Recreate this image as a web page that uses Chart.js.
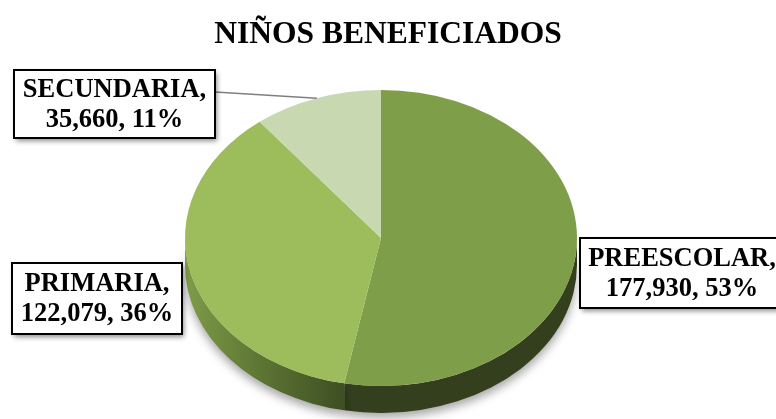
<!DOCTYPE html>
<html>
<head>
<meta charset="utf-8">
<script src="https://cdn.jsdelivr.net/npm/chart.js@4"></script>
<style>
    html, body { margin: 0; padding: 0; background: #fff; }
    canvas { display: block; }
</style>
</head>
<body>
<canvas id="pie" width="776" height="419"></canvas>
<script>
// Data
const categories = ["PREESCOLAR", "PRIMARIA", "SECUNDARIA"];
const values = [177930, 122079, 35660];
const topColors = ["#7f9e49", "#9dbd5c", "#c8d8b0"];
const sideColors = ["#333f1d", "#5f7a34", "#8aa05e"];

// Ellipse used for the 3D look (layout only)
const ell = { cx: 381, cy: 238, rx: 196, ry: 148, depth: 27 };

// Label boxes (layout only)
const labelBoxes = [
    { x: 580, y: 238, w: 204, h: 70 },
    { x: 12, y: 263, w: 170, h: 71 },
    { x: 14, y: 70, w: 201, h: 68, leader: true }
];

const total = values.reduce((a, b) => a + b, 0);

// Draw the pie as a tilted disc
const pie3d = {
    id: "pie3d",
    beforeDatasetsDraw(chart) {
        let ctx = chart.ctx;
        let arcs = chart.getDatasetMeta(0).data;
        let R = arcs[0].outerRadius;
        let x = arcs[0].x, y = arcs[0].y;

        // Side walls, only the front half can be seen
        ctx.save();
        ctx.shadowColor = "rgba(0,0,0,0.35)";
        ctx.shadowBlur = 10;
        ctx.shadowOffsetY = 5;
        arcs.forEach((arc, i) => {
            let t0 = Math.max(arc.startAngle, 0);
            let t1 = Math.min(arc.endAngle, Math.PI);
            if (t1 <= t0) return;
            ctx.beginPath();
            ctx.ellipse(ell.cx, ell.cy, ell.rx, ell.ry, 0, t0, t1);
            ctx.ellipse(ell.cx, ell.cy + ell.depth, ell.rx, ell.ry, 0, t1, t0, true);
            ctx.closePath();
            if (i === 1) {
                let g = ctx.createLinearGradient(ell.cx - ell.rx, 0, ell.cx - 40, 0);
                g.addColorStop(0, "#7d9c48");
                g.addColorStop(0.5, "#5c7433");
                g.addColorStop(1, "#3f5023");
                ctx.fillStyle = g;
            } else {
                ctx.fillStyle = sideColors[i];
            }
            ctx.fill();
        });
        ctx.restore();

        // Squash the library's circle into the ellipse
        ctx.save();
        ctx.translate(ell.cx, ell.cy);
        ctx.scale(ell.rx / R, ell.ry / R);
        ctx.translate(-x, -y);
    },
    afterDatasetsDraw(chart) {
        chart.ctx.restore();
    },
    afterDraw(chart) {
        let ctx = chart.ctx;
        let arcs = chart.getDatasetMeta(0).data;
        labelBoxes.forEach((b, i) => {
            // Leader line to the slice edge
            if (b.leader) {
                let mid = (arcs[i].startAngle + arcs[i].endAngle) / 2;
                ctx.save();
                ctx.strokeStyle = "#7f7f7f";
                ctx.lineWidth = 1.5;
                ctx.beginPath();
                ctx.moveTo(b.x + b.w, b.y + 22);
                ctx.lineTo(ell.cx + ell.rx * Math.cos(mid), ell.cy + ell.ry * Math.sin(mid));
                ctx.stroke();
                ctx.restore();
            }
            // Box with shadow
            ctx.save();
            ctx.shadowColor = "rgba(0,0,0,0.45)";
            ctx.shadowBlur = 5;
            ctx.shadowOffsetX = 2;
            ctx.shadowOffsetY = 3;
            ctx.fillStyle = "#fff";
            ctx.fillRect(b.x, b.y, b.w, b.h);
            ctx.restore();
            ctx.save();
            ctx.strokeStyle = "#000";
            ctx.lineWidth = 2;
            ctx.strokeRect(b.x, b.y, b.w, b.h);

            // Text
            let pct = Math.round(values[i] / total * 100);
            ctx.fillStyle = "#000";
            ctx.font = "bold 26.5px 'Liberation Serif', 'Times New Roman', serif";
            ctx.textAlign = "center";
            ctx.textBaseline = "middle";
            let tx = b.x + b.w / 2;
            ctx.fillText(categories[i] + ",", tx, b.y + b.h / 2 - 14);
            ctx.fillText(values[i].toLocaleString("en-US") + ", " + pct + "%", tx, b.y + b.h / 2 + 16);
            ctx.restore();
        });
    }
};

let canvas = document.getElementById("pie").getContext("2d");
let chart = new Chart(canvas, {
    type: "pie",
    data: {
        labels: categories,
        datasets: [{
            data: values,
            backgroundColor: topColors,
            borderWidth: 0
        }]
    },
    options: {
        responsive: false,
        animation: false,
        layout: { padding: { top: 10, bottom: 10 } },
        plugins: {
            legend: { display: false },
            tooltip: { enabled: false },
            title: {
                display: true,
                text: "NIÑOS BENEFICIADOS",
                color: "#000",
                font: { family: "'Liberation Serif', 'Times New Roman', serif", size: 31.5, weight: "bold" },
                padding: { top: 6, bottom: 10 }
            }
        }
    },
    plugins: [pie3d]
});
</script>
</body>
</html>
